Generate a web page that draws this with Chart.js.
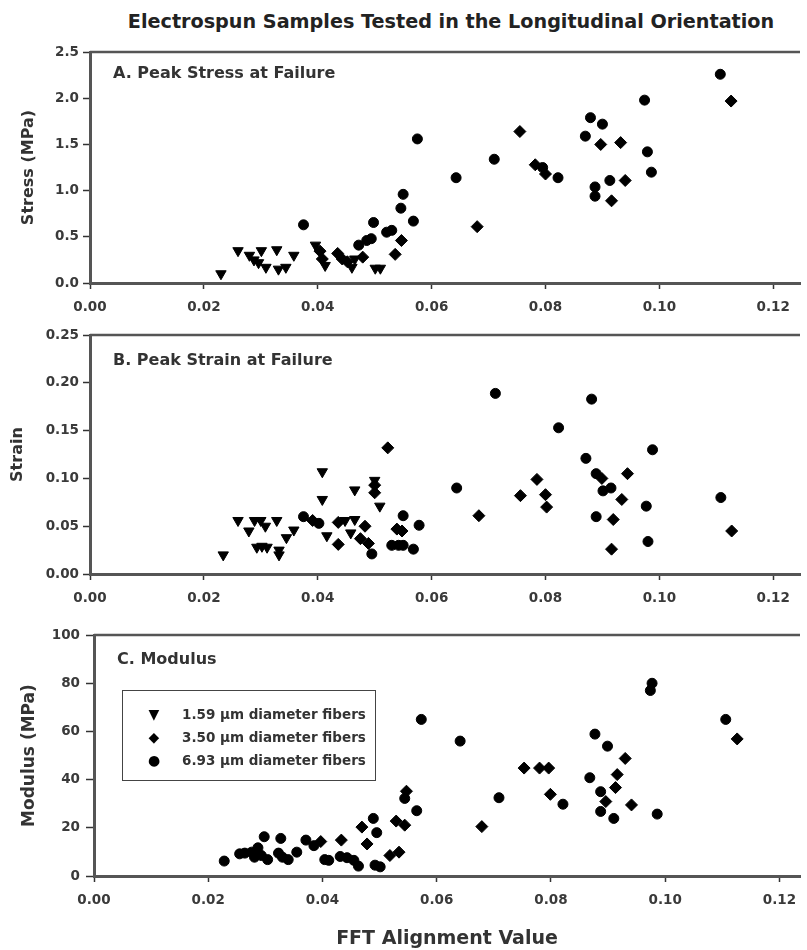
<!DOCTYPE html>
<html>
<head>
<meta charset="utf-8">
<script src="https://cdn.jsdelivr.net/npm/chart.js@4.4.1/dist/chart.umd.min.js"></script>
<style>
body{margin:0;background:#fff}
#page{position:relative;width:807px;height:950px;overflow:hidden;font-family:"DejaVu Sans",sans-serif;font-weight:bold;color:#333}
canvas{position:absolute;left:0}
.txt{position:absolute;white-space:nowrap;line-height:1}
#title{left:451px;top:12px;font-size:19.2px;color:#222;transform:translateX(-50%)}
.panel{font-size:16px}
#legend{position:absolute;left:122px;top:690px;width:252px;height:89px;border:1.5px solid #444;font-size:13.5px}
#legend .row{position:absolute;left:0;width:250px;height:20px;line-height:20px;white-space:nowrap}
#legend .sym{position:absolute;left:22px;width:18px;text-align:center;color:#000;font-size:14px}
#legend .lab{position:absolute;left:59px;white-space:nowrap}
</style>
</head>
<body>
<div id="page">
<div class="txt" id="title">Electrospun Samples Tested in the Longitudinal Orientation</div>
<canvas id="stress" width="807" height="279" style="top:40px"></canvas>
<canvas id="strain" width="807" height="287" style="top:323px"></canvas>
<canvas id="modulus" width="807" height="329" style="top:621px"></canvas>
<div class="txt panel" style="left:113px;top:65px">A. Peak Stress at Failure</div>
<div class="txt panel" style="left:113px;top:352px">B. Peak Strain at Failure</div>
<div class="txt panel" style="left:117px;top:651px">C. Modulus</div>
<div id="legend">
<div class="row" style="top:13px"><span class="sym">▼</span><span class="lab">1.59 µm diameter fibers</span></div>
<div class="row" style="top:36px"><span class="sym">◆</span><span class="lab">3.50 µm diameter fibers</span></div>
<div class="row" style="top:59px"><span class="sym">●</span><span class="lab">6.93 µm diameter fibers</span></div>
</div>
</div>
<script>

// tick values

const xTicks = [0, 0.02, 0.04, 0.06, 0.08, 0.10, 0.12]
const stressTicks = [0, 0.5, 1.0, 1.5, 2.0, 2.5]
const strainTicks = [0, 0.05, 0.10, 0.15, 0.20, 0.25]
const modulusTicks = [0, 20, 40, 60, 80, 100]

// A. peak stress (MPa) vs FFT alignment, [x, y]

const stressFine = [
[0.023,0.10],[0.026,0.35],[0.028,0.30],[0.0288,0.25],[0.0296,0.22],[0.0301,0.35],[0.0309,0.17],
[0.0328,0.36],[0.0331,0.15],[0.0344,0.17],[0.0358,0.30],[0.0396,0.41],[0.0413,0.19],[0.046,0.17],
[0.0465,0.26],[0.0501,0.16],[0.051,0.16]
]
const stressMid = [
[0.0404,0.345],[0.0408,0.26],[0.0435,0.32],[0.0443,0.26],[0.0452,0.23],[0.0479,0.28],[0.0536,0.31],
[0.0547,0.46],[0.068,0.61],[0.0755,1.64],[0.0782,1.28],[0.080,1.18],[0.0897,1.50],[0.0932,1.52],
[0.0916,0.89],[0.094,1.11],[0.1126,1.97]
]
const stressCoarse = [
[0.0375,0.63],[0.0472,0.41],[0.0486,0.46],[0.0494,0.48],[0.0498,0.655],[0.0521,0.55],[0.053,0.57],
[0.0546,0.81],[0.055,0.96],[0.0568,0.67],[0.0575,1.56],[0.0643,1.14],[0.071,1.34],[0.0795,1.25],
[0.0822,1.14],[0.087,1.59],[0.0879,1.79],[0.090,1.72],[0.0887,1.04],[0.0887,0.94],[0.0913,1.11],
[0.0974,1.98],[0.0979,1.42],[0.0986,1.20],[0.1107,2.26]
]

// B. peak strain

const strainFine = [
[0.0234,0.020],[0.026,0.056],[0.0279,0.045],[0.0289,0.056],[0.030,0.056],[0.0293,0.028],[0.0302,0.029],
[0.0311,0.028],[0.0308,0.050],[0.0328,0.056],[0.0332,0.020],[0.0332,0.025],[0.0345,0.038],[0.0358,0.046],
[0.0408,0.107],[0.0408,0.078],[0.0416,0.040],[0.0448,0.056],[0.0458,0.043],[0.0465,0.088],[0.0465,0.057],
[0.050,0.098],[0.0509,0.071]
]
const strainMid = [
[0.0391,0.056],[0.0436,0.054],[0.0436,0.031],[0.0475,0.037],[0.0483,0.050],[0.0489,0.032],[0.050,0.093],
[0.050,0.085],[0.0523,0.132],[0.0539,0.047],[0.0548,0.045],[0.0683,0.061],[0.0756,0.082],[0.0785,0.099],
[0.080,0.083],[0.0802,0.070],[0.0899,0.100],[0.0944,0.105],[0.0934,0.078],[0.0919,0.057],[0.0916,0.026],
[0.1127,0.045]
]
const strainCoarse = [
[0.0375,0.060],[0.0402,0.053],[0.0495,0.021],[0.053,0.030],[0.0542,0.030],[0.055,0.030],[0.055,0.061],
[0.0568,0.026],[0.0578,0.051],[0.0644,0.090],[0.0712,0.189],[0.0823,0.153],[0.0871,0.121],[0.0881,0.183],
[0.0889,0.105],[0.0901,0.087],[0.0915,0.090],[0.0889,0.060],[0.0977,0.071],[0.0988,0.130],[0.098,0.034],
[0.1108,0.080]
]

// C. modulus (MPa)

const modulusFine = [
[0.0228,6.2],[0.0255,9.2],[0.0264,9.5],[0.0276,9.9],[0.0287,11.7],[0.0281,7.8],[0.0293,8.5],[0.0304,6.8],
[0.0298,16.3],[0.0327,15.6],[0.0323,9.5],[0.033,7.8],[0.034,6.8],[0.0355,9.9],[0.0404,6.8],[0.0411,6.5],
[0.0431,8.1],[0.0443,7.6],[0.0455,6.5],[0.0463,4.1],[0.0492,4.5],[0.0501,3.8]
]
const modulusMid = [
[0.0397,14.3],[0.0433,14.9],[0.0478,13.3],[0.0469,20.3],[0.0518,8.5],[0.0534,9.9],[0.0529,22.8],
[0.0544,21.1],[0.0547,35.2],[0.0679,20.5],[0.0753,44.8],[0.078,44.8],[0.0796,44.8],[0.0799,33.9],
[0.093,48.8],[0.0916,42.1],[0.0913,36.7],[0.0896,30.9],[0.0941,29.5],[0.1126,56.9]
]
const modulusCoarse = [
[0.0371,14.9],[0.0385,12.6],[0.0489,23.9],[0.0495,18.0],[0.0544,32.2],[0.0565,27.1],[0.0573,65],
[0.0641,56],[0.0709,32.5],[0.0821,29.8],[0.0877,58.9],[0.0899,53.9],[0.0868,40.8],[0.0887,35],
[0.0887,26.8],[0.091,23.9],[0.0977,80],[0.0974,77],[0.0986,25.7],[0.1106,65]
]

let tickFont = {family:"DejaVu Sans", size:13.5, weight:"bold"}

// top edge of the plot frame

const topLine = {
id:"topLine",
afterDraw(chart){
let a = chart.chartArea
let ctx = chart.ctx
ctx.save()
ctx.strokeStyle = "#555"
ctx.lineWidth = 2.5
ctx.beginPath()
ctx.moveTo(a.left, a.top)
ctx.lineTo(a.right, a.top)
ctx.stroke()
ctx.restore()
}
}

function series(points, style){
let ds = {
data: points.map(p => ({x:p[0], y:p[1]})),
pointStyle: style,
pointRadius: 5,
pointBackgroundColor: "#000",
pointBorderColor: "#000",
pointBorderWidth: 1
}
if(style === "triangle"){
ds.pointRotation = 180
ds.pointRadius = 6
}
if(style === "rectRot"){
ds.pointRadius = 6
}
return ds
}

function panel(id, opt){

let c = new Chart(document.getElementById(id), {

type:"scatter",

data:{
datasets: opt.sets
},

plugins:[topLine],

options:{
responsive:false,
animation:false,
devicePixelRatio:1,
layout:{padding:{top:9, left:0, right:0, bottom:0}},
plugins:{legend:{display:false}, tooltip:{enabled:false}},
scales:{
x:{
type:"linear",
min:0,
max:opt.xMax,
afterBuildTicks: s => { s.ticks = xTicks.map(v => ({value:v})) },
afterFit: s => { s.height = opt.xHeight },
ticks:{font:tickFont, color:"#3a3a3a", padding:10, maxRotation:0, callback: v => v.toFixed(2)},
grid:{drawOnChartArea:false, drawTicks:true, tickLength:6, tickWidth:1.5, tickColor:"#333"},
border:{display:true, color:"#555", width:3},
title:opt.xTitle ? {display:true, text:opt.xTitle, color:"#333", font:{family:"DejaVu Sans", size:19, weight:"bold"}, padding:{top:0, bottom:0}} : {display:false}
},
y:{
type:"linear",
min:opt.yTicks[0],
max:opt.yTicks[opt.yTicks.length-1],
afterBuildTicks: s => { s.ticks = opt.yTicks.map(v => ({value:v})) },
afterFit: s => { s.width = opt.yWidth },
ticks:{font:tickFont, color:"#3a3a3a", padding:opt.yPad, callback: v => v.toFixed(opt.digits)},
grid:{drawOnChartArea:false, drawTicks:true, tickLength:opt.yTick, tickWidth:1.5, tickColor:"#333"},
border:{display:true, color:"#555", width:3},
title:{display:true, text:opt.yTitle, color:"#333", font:{family:"DejaVu Sans", size:opt.yTitleSize, weight:"bold"}, padding:{top:opt.yTitlePad, bottom:0}}
}
}
}

})

return c

}

panel("stress", {
sets:[series(stressFine,"triangle"), series(stressMid,"rectRot"), series(stressCoarse,"circle")],
xMax:0.1247, xHeight:36, yWidth:90, yTicks:stressTicks, digits:1, yPad:4, yTick:7,
yTitle:"Stress (MPa)", yTitleSize:16, yTitlePad:19
})

panel("strain", {
sets:[series(strainFine,"triangle"), series(strainMid,"rectRot"), series(strainCoarse,"circle")],
xMax:0.1247, xHeight:36, yWidth:90, yTicks:strainTicks, digits:2, yPad:4, yTick:7,
yTitle:"Strain", yTitleSize:16, yTitlePad:8
})

// the finest fibers show up as round dots in panel C

panel("modulus", {
sets:[series(modulusFine,"circle"), series(modulusMid,"rectRot"), series(modulusCoarse,"circle")],
xMax:0.1236, xHeight:74, yWidth:94, yTicks:modulusTicks, digits:0, yPad:6, yTick:8,
yTitle:"Modulus (MPa)", yTitleSize:17, yTitlePad:19, xTitle:"FFT Alignment Value"
})

</script>
</body>
</html>
